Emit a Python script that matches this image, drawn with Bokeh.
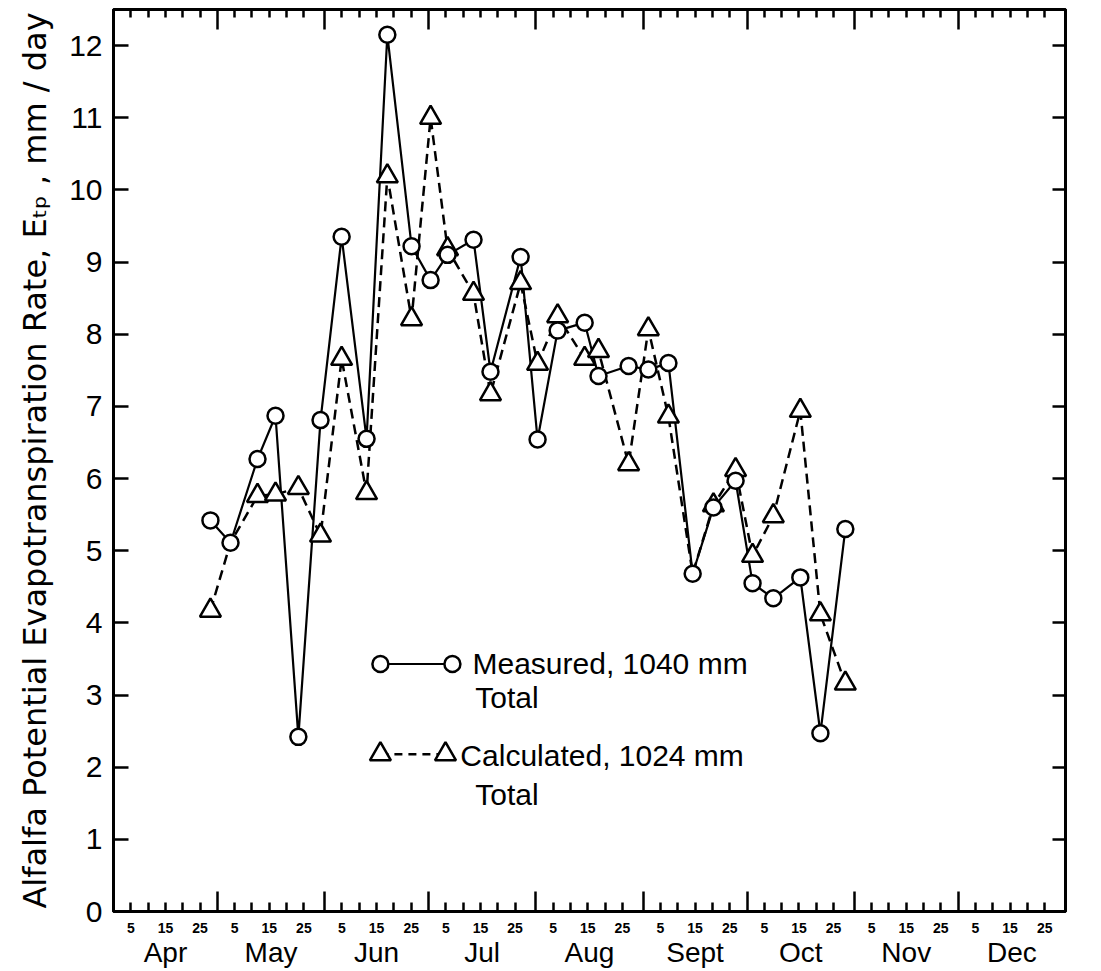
from bokeh.plotting import figure
from bokeh.models import LinearAxis, FixedTicker, Range1d
from bokeh.embed import file_html
from bokeh.resources import INLINE
from bokeh.core.properties import value

# ---------------- data ----------------
# sampling dates, counted in days from 31 March (1 = 1 April)
days = [28.0, 33.8, 41.6, 46.8, 53.4, 59.8, 65.9, 73.1, 79.1, 86.1,
        91.6, 96.5, 104.0, 108.9, 117.6, 122.5, 128.3, 136.1, 140.1, 148.8,
        154.5, 160.3, 167.3, 173.3, 179.7, 184.6, 190.6, 198.4, 204.2, 211.4]

# measured alfalfa potential ET (mm/day)
measured = [5.42, 5.11, 6.27, 6.87, 2.42, 6.81, 9.35, 6.55, 12.15, 9.22,
            8.75, 9.10, 9.31, 7.48, 9.07, 6.54, 8.05, 8.16, 7.42, 7.56,
            7.51, 7.60, 4.68, 5.60, 5.97, 4.55, 4.34, 4.63, 2.47, 5.30]

# calculated alfalfa potential ET (mm/day)
calculated = [4.17, 5.11, 5.76, 5.78, 5.87, 5.21, 7.66, 5.80, 10.19, 8.21,
              11.00, 9.18, 8.56, 7.17, 8.71, 7.59, 8.25, 7.66, 7.77, 6.20,
              8.07, 6.86, 4.68, 5.63, 6.12, 4.93, 5.48, 6.94, 4.12, 3.16]

months = ["Apr", "May", "Jun", "Jul", "Aug", "Sept", "Oct", "Nov", "Dec"]
month_lengths = [30, 31, 30, 31, 31, 30, 31, 30, 31]
day_tick_labels = [5, 15, 25]
minor_day_ticks = [5, 10, 15, 20, 25]
y_ticks = list(range(0, 13))

y_title = "Alfalfa Potential Evapotranspiration Rate, E\u209c\u209a , mm / day"
legend_labels = ["Measured, 1040 mm", "Total", "Calculated, 1024 mm", "Total"]

# ---------------- derived tick positions ----------------
month_starts = [sum(month_lengths[:i]) for i in range(len(month_lengths))]
season_end = sum(month_lengths)
month_bounds = month_starts + [season_end]
month_centers = [s + L / 2 for s, L in zip(month_starts, month_lengths)]
minor_ticks = [s + d for s in month_starts for d in minor_day_ticks]
day_label_pos = [s + d for s in month_starts for d in day_tick_labels]

# where the calculated value coincides with the measured one, only the circle shows
calc_days_shown = [d for d, c, m in zip(days, calculated, measured) if c != m]
calc_shown = [c for c, m in zip(calculated, measured) if c != m]

FONT = "Liberation Sans"

p = figure(frame_width=952, frame_height=902,
           x_range=Range1d(0, season_end), y_range=Range1d(0, 12.5),
           output_backend="svg", toolbar_location=None,
           x_axis_location=None, y_axis_location=None,
           min_border_left=113, min_border_right=28,
           min_border_top=9, min_border_bottom=56)
for g in p.grid:
    g.visible = False
p.outline_line_color = "black"
p.outline_line_width = 3
p.background_fill_color = "white"
p.border_fill_color = "white"


def frame_axis(ticks, minor, tin, minor_in):
    ax = LinearAxis(ticker=FixedTicker(ticks=ticks, minor_ticks=minor))
    ax.major_tick_in = tin
    ax.major_tick_out = 0
    ax.minor_tick_in = minor_in
    ax.minor_tick_out = 0
    ax.major_tick_line_width = 2.5
    ax.minor_tick_line_width = 2.5
    ax.major_tick_line_color = "black"
    ax.minor_tick_line_color = "black"
    ax.axis_line_width = 3
    ax.axis_line_color = "black"
    ax.major_label_overrides = {t: "" for t in ticks}
    ax.major_label_text_font_size = "1px"
    ax.major_label_standoff = 0
    return ax


# left axis with tick labels and title
left = LinearAxis(ticker=FixedTicker(ticks=y_ticks, minor_ticks=[]), axis_label=y_title)
left.major_tick_in = 15
left.major_tick_out = 0
left.minor_tick_in = 0
left.minor_tick_out = 0
left.major_tick_line_width = 2.5
left.axis_line_width = 3
left.axis_line_color = "black"
left.major_tick_line_color = "black"
left.major_label_text_font = FONT
left.major_label_text_font_size = "30px"
left.major_label_text_color = "black"
left.major_label_standoff = 11
left.axis_label_text_font = "DejaVu Sans"
left.axis_label_text_font_size = "32px"
left.axis_label_text_font_style = "normal"
left.axis_label_text_color = "black"
left.axis_label_standoff = 12
p.add_layout(left, "left")

right = frame_axis(y_ticks, [], 13, 0)
p.add_layout(right, "right")

top = frame_axis(month_bounds, minor_ticks, 20, 8)
p.add_layout(top, "above")

bottom = frame_axis(month_bounds, minor_ticks, 20, 9)
p.add_layout(bottom, "below")

# day-of-month labels
day_ax = LinearAxis(ticker=FixedTicker(ticks=day_label_pos, minor_ticks=[]))
day_ax.major_label_overrides = {pos: str(d) for pos, d in
                                zip(day_label_pos, day_tick_labels * len(months))}
day_ax.axis_line_color = None
day_ax.major_tick_line_color = None
day_ax.minor_tick_line_color = None
day_ax.major_tick_in = 0
day_ax.major_tick_out = 0
day_ax.major_label_text_font = FONT
day_ax.major_label_text_font_style = "bold"
day_ax.major_label_text_font_size = "14px"
day_ax.major_label_text_color = "black"
day_ax.major_label_standoff = 11
p.add_layout(day_ax, "below")

# month labels
mon_ax = LinearAxis(ticker=FixedTicker(ticks=month_centers, minor_ticks=[]))
mon_ax.major_label_overrides = {c: m for c, m in zip(month_centers, months)}
mon_ax.axis_line_color = None
mon_ax.major_tick_line_color = None
mon_ax.minor_tick_line_color = None
mon_ax.major_tick_in = 0
mon_ax.major_tick_out = 0
mon_ax.major_label_text_font = FONT
mon_ax.major_label_text_font_size = "28px"
mon_ax.major_label_text_color = "black"
mon_ax.major_label_standoff = 1
p.add_layout(mon_ax, "below")

# ---------------- data series ----------------
p.line(days, calculated, line_color="black", line_width=2.5, line_dash="10 6")
p.line(days, measured, line_color="black", line_width=2.2)
p.scatter(calc_days_shown, calc_shown, marker="triangle", size=21, fill_color="white",
          line_color="black", line_width=2.5)
p.scatter(days, measured, marker="circle", size=16, fill_color="white",
          line_color="black", line_width=2.5)

# ---------------- legend (drawn inside the frame) ----------------
leg_meas_x = [77.1, 97.9]
leg_meas_y = [3.43, 3.43]
leg_calc_x = [77.1, 95.9]
leg_calc_y = [2.18, 2.18]
p.line(leg_meas_x, leg_meas_y, line_color="black", line_width=2.2)
p.scatter(leg_meas_x, leg_meas_y, marker="circle", size=16, fill_color="white",
          line_color="black", line_width=2.5)
p.line(leg_calc_x, leg_calc_y, line_color="black", line_width=2.5, line_dash="8 6")
p.scatter(leg_calc_x, leg_calc_y, marker="triangle", size=21, fill_color="white",
          line_color="black", line_width=2.5)

leg_text_x = [103.7, 104.5, 100.2, 104.5]
leg_text_y = [3.43, 2.96, 2.16, 1.62]
p.text(x=leg_text_x, y=leg_text_y, text=legend_labels,
       text_font=value(FONT), text_font_size="30px", text_color="black",
       text_baseline="middle", text_align="left")

open("out.html", "w").write(file_html(p, INLINE))
